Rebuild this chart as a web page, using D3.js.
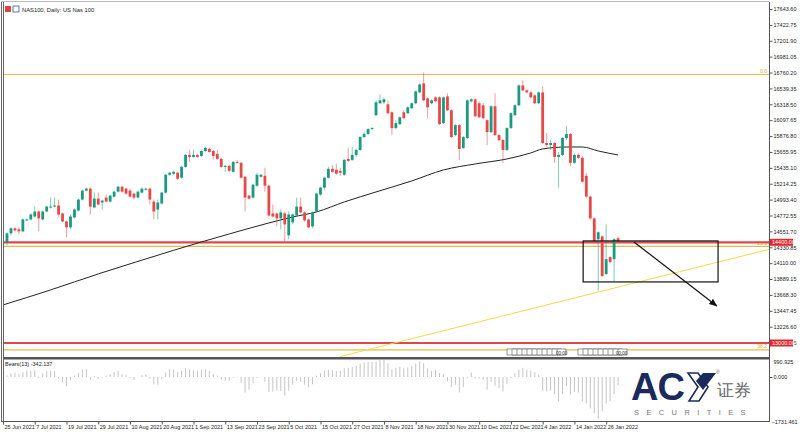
<!DOCTYPE html>
<html><head><meta charset="utf-8">
<script src="https://cdn.jsdelivr.net/npm/d3@7"></script>
<style>body{margin:0;background:#fff}svg{display:block}text{font-family:"Liberation Sans",Arial,sans-serif}</style>
</head><body><svg id="c" width="800" height="436"></svg>
<script>
// ---------- DATA (NAS100 daily, bar index 0 = 25 Jun 2021) ----------
const firstBar = 1;
const opens = [14401,14525,14594,14580,14552,14704,14718,14759,14828,14718,14828,14884,14897,14911,14801,14690,14608,14746,14842,14994,15118,15146,14884,15008,14953,15022,14966,15035,15104,15173,15146,15118,15077,15022,15091,15132,15146,14966,14856,14939,15091,15339,15353,15367,15298,15449,15615,15587,15615,15601,15670,15698,15670,15629,15560,15449,15463,15380,15518,15505,15311,15049,15022,15187,15311,15325,15187,14801,14801,14732,14801,14497,14677,14773,14897,14815,14718,14621,14828,15063,15160,15298,15422,15408,15394,15339,15560,15546,15615,15684,15863,15905,15974,16167,16333,16346,16319,16208,15988,16043,16208,16195,16264,16333,16484,16609,16402,16333,16415,16415,16057,16429,16236,15891,16029,15712,15850,16360,16388,16333,16305,16098,15932,16291,15891,15822,15684,15988,16167,16305,16581,16512,16484,16443,16333,16484,15781,15753,15781,15587,15615,15850,15905,15505,15615,15574,15325,15035,14732,14442,14483,13959,14194,14166,14456];
const highs = [14539,14608,14608,14608,14732,14732,14801,14897,14842,14842,14911,15022,15022,14994,14815,14704,14787,14870,15008,15132,15160,15160,15091,15091,14994,15063,15063,15118,15187,15187,15160,15146,15091,15118,15160,15160,15160,14994,14994,15104,15353,15380,15394,15380,15463,15629,15684,15684,15629,15684,15725,15712,15684,15684,15574,15477,15477,15532,15546,15518,15325,15063,15215,15367,15353,15436,15201,14925,14815,14856,14828,14828,14801,15022,15022,14828,14732,14828,15091,15173,15311,15449,15477,15491,15436,15560,15712,15725,15698,15877,15932,15988,16001,16374,16457,16415,16374,16222,16098,16153,16236,16291,16346,16512,16609,16760,16415,16388,16429,16429,16429,16471,16250,16043,16043,15877,16388,16402,16402,16360,16333,16112,16305,16471,15905,15836,16001,16208,16319,16595,16650,16526,16498,16457,16498,16567,15919,15822,15794,15656,15863,16015,15919,15629,15643,15601,15367,15049,14746,14552,14497,14649,14207,14456,14483];
const lows = [14359,14497,14552,14511,14539,14690,14704,14746,14552,14704,14815,14870,14884,14759,14677,14470,14580,14732,14828,14980,15104,14787,14870,14911,14856,14953,14953,15022,15091,15091,15063,15022,14994,15008,15077,15118,14925,14718,14718,14925,15077,15325,15339,15270,15284,15436,15518,15574,15574,15587,15656,15643,15546,15546,15436,15380,15380,15367,15491,15284,14828,14994,15008,15173,15298,15104,14759,14746,14621,14580,14401,14442,14649,14759,14801,14690,14594,14594,14815,15049,15132,15284,15367,15339,15325,15325,15518,15532,15587,15670,15850,15891,15960,16153,16319,16319,16181,15891,15974,16029,16112,16181,16250,16319,16471,16360,16126,16319,16346,16029,16043,16222,15850,15877,15546,15698,15836,16346,16139,16126,16112,15753,15919,15877,15808,15505,15670,15974,16153,16291,16498,16471,16402,16319,16319,15767,15725,15684,15505,15160,15601,15822,15463,15491,15560,15229,15022,14718,14401,13724,13918,13946,14111,13862,14401];
const closes = [14525,14594,14566,14552,14718,14718,14787,14828,14732,14828,14897,14897,14911,14787,14690,14608,14759,14856,14994,15118,15146,14897,15008,14925,14980,14966,15049,15104,15173,15104,15077,15035,15022,15104,15146,15146,14994,14828,14953,15091,15339,15367,15380,15284,15449,15615,15587,15615,15587,15670,15712,15656,15601,15560,15449,15463,15394,15518,15505,15298,15022,15008,15201,15339,15339,15187,14773,14759,14732,14815,14649,14787,14787,14897,14815,14704,14608,14815,15077,15160,15298,15422,15380,15353,15367,15546,15532,15615,15684,15863,15905,15974,15988,16346,16374,16388,16195,15988,16057,16139,16126,16277,16333,16498,16595,16374,16277,16374,16360,16043,16415,16236,15863,16029,15698,15863,16374,16388,16153,16139,16126,15932,16291,15891,15822,15684,15988,16195,16305,16581,16512,16484,16415,16333,16484,15781,15753,15781,15587,15615,15850,15905,15505,15615,15574,15242,15035,14732,14414,14539,13931,14166,14125,14442,14414];
const bears = [60,150,180,120,200,260,250,280,-40,150,230,260,240,-60,-220,-380,-150,60,180,300,320,-120,40,-60,-20,60,120,200,260,120,80,-40,-120,0,80,100,-80,-300,-320,-80,180,320,300,200,260,360,300,280,260,300,320,260,120,60,-100,-180,-160,-40,-20,-240,-640,-520,-260,-40,-20,-200,-620,-600,-560,-580,-760,-560,-320,-160,-200,-320,-420,-300,60,160,260,300,280,240,260,360,380,420,460,560,600,620,620,640,700,720,560,320,380,420,360,400,460,560,640,560,360,260,300,160,120,-180,-420,-320,-640,-420,-60,180,-60,-60,-120,-520,-200,-360,-460,-600,-300,-40,160,300,380,300,260,200,100,-560,-600,-560,-700,-1000,-700,-380,-720,-620,-640,-1000,-1100,-1300,-1500,-1731,-1400,-1100,-1000,-700,-342];
// moving average (read at sampled bars)
const maBars = [0,12,24,36,50,57,67,73,79,86,94,103,111,119,127,133,136,142,146,150,155];
const maVals = [13529,13738,13960,14169,14405,14516,14669,14752,14822,14961,15100,15253,15406,15489,15559,15642,15698,15725,15725,15670,15614];
const priceTicks = [17643.60,17422.75,17201.90,16981.05,16760.20,16539.35,16318.50,16097.65,15876.80,15655.95,15435.10,15214.25,14993.40,14772.55,14551.70,14330.85,14110.00,13889.15,13668.30,13447.45,13226.60,13005.75];
const dateTicks = [[0,"25 Jun 2021"],[8,"7 Jul 2021"],[16,"19 Jul 2021"],[24,"29 Jul 2021"],[32,"10 Aug 2021"],[40,"20 Aug 2021"],[48,"1 Sep 2021"],[56,"13 Sep 2021"],[64,"23 Sep 2021"],[72,"5 Oct 2021"],[80,"15 Oct 2021"],[88,"27 Oct 2021"],[96,"8 Nov 2021"],[104,"18 Nov 2021"],[112,"30 Nov 2021"],[120,"10 Dec 2021"],[128,"22 Dec 2021"],[136,"4 Jan 2022"],[144,"14 Jan 2022"],[152,"26 Jan 2022"]];
const levels = [{v:14400,label:"14400.00"},{v:13000,label:"13000.00"}];
const fibs = [{v:16733,label:"0.0"},{v:14342,label:"23.6"},{v:12904,label:"38.2"}];
const trendLine = [[85,12812],[196,14343]];
const boxRect = [[146.2,14419],[180.2,13849]];
const arrowPts = [[159,14405],[179.9,13515]];
const bearsTicks = [990.925,0,-1731.461];

// ---------- LAYOUT ----------
const W=800,H=436, L=4, R=769, T=2, B=357, IT=360, IB=421;
const svg=d3.select("#c");
const x=d3.scaleLinear().domain([0,155]).range([3.03,3.03+155*3.968]);
const y=d3.scaleLinear().domain([13226.6,17643.6]).range([326.7,9]);
const yb=d3.scaleLinear().domain([-1731.461,0]).range([419,377]);

svg.append("rect").attr("width",W).attr("height",H).attr("fill","#fff");
const defs=svg.append("defs");
defs.append("clipPath").attr("id","main").append("rect").attr("x",L).attr("y",T).attr("width",R-L).attr("height",B-T);
defs.append("clipPath").attr("id","ind").append("rect").attr("x",L).attr("y",IT).attr("width",R-L).attr("height",IB-IT);
defs.append("marker").attr("id","arr").attr("viewBox","0 0 10 10").attr("refX",9).attr("refY",5)
  .attr("markerWidth",7).attr("markerHeight",7).attr("orient","auto")
  .append("path").attr("d","M0,1 L10,5 L0,9 z").attr("fill","#111");

const gm=svg.append("g").attr("clip-path","url(#main)");
fibs.forEach(f=>{
  gm.append("line").attr("x1",L).attr("x2",R).attr("y1",y(f.v)).attr("y2",y(f.v)).attr("stroke","#e8b84a").attr("stroke-width",1.2);
  gm.append("text").attr("x",R-2).attr("y",y(f.v)-1.5).attr("text-anchor","end").attr("font-size",5).attr("fill","#d9a52a").text(f.label);
});
levels.forEach(l=>{
  gm.append("line").attr("x1",L).attr("x2",R).attr("y1",y(l.v)).attr("y2",y(l.v)).attr("stroke","#e0474c").attr("stroke-width",2.2);
});
gm.append("line").attr("x1",x(trendLine[0][0])).attr("y1",y(trendLine[0][1])).attr("x2",x(trendLine[1][0])).attr("y2",y(trendLine[1][1]))
  .attr("stroke","#f2dc4a").attr("stroke-width",1);
gm.append("path").datum(maBars.map((b,i)=>[b,maVals[i]]))
  .attr("d",d3.line().x(d=>x(d[0])).y(d=>y(d[1])).curve(d3.curveMonotoneX))
  .attr("fill","none").attr("stroke","#222").attr("stroke-width",1);
const idx=d3.range(opens.length);
const cg=gm.append("g");
idx.forEach(i=>{
  const b=i+firstBar, cx=x(b), o=opens[i], c=closes[i], up=c>=o;
  const col=up?"#1a9a7f":"#e84848";
  cg.append("line").attr("x1",cx).attr("x2",cx).attr("y1",y(highs[i])).attr("y2",y(lows[i])).attr("stroke",col).attr("stroke-opacity",0.55).attr("stroke-width",1);
  const y1=y(Math.max(o,c)), y2=y(Math.min(o,c));
  cg.append("rect").attr("x",cx-1.4).attr("width",2.8).attr("y",y1).attr("height",Math.max(1,y2-y1)).attr("fill",col);
});
gm.append("rect").attr("x",x(boxRect[0][0])).attr("y",y(boxRect[0][1])).attr("width",x(boxRect[1][0])-x(boxRect[0][0])).attr("height",y(boxRect[1][1])-y(boxRect[0][1]))
  .attr("fill","none").attr("stroke","#111").attr("stroke-width",1.2);
gm.append("line").attr("x1",x(arrowPts[0][0])).attr("y1",y(arrowPts[0][1])).attr("x2",x(arrowPts[1][0])).attr("y2",y(arrowPts[1][1]))
  .attr("stroke","#111").attr("stroke-width",1.2).attr("marker-end","url(#arr)");
const tagG=svg.append("g");
[[507,568],[578,628]].forEach(([a,b])=>{
  for(let k=a;k<b-6;k+=5){
    tagG.append("rect").attr("x",k).attr("y",349).attr("width",9).attr("height",6).attr("fill","#fff").attr("stroke","#333").attr("stroke-width",0.5);
  }
  tagG.append("text").attr("x",b-12).attr("y",354.5).attr("font-size",4.5).attr("fill","#333").text("00:00");
});

// ---------- indicator ----------
const gi=svg.append("g").attr("clip-path","url(#ind)");
idx.forEach(i=>{
  gi.append("line").attr("x1",x(i+firstBar)).attr("x2",x(i+firstBar)).attr("y1",yb(0)).attr("y2",yb(bears[i])).attr("stroke","#c4c4c4").attr("stroke-width",1);
});
svg.append("text").attr("x",5).attr("y",366).attr("font-size",5.5).attr("fill","#222").text("Bears(13) -342.137");

// ---------- frame ----------
svg.append("line").attr("x1",1.5).attr("x2",1.5).attr("y1",1).attr("y2",IB).attr("stroke","#666");
svg.append("line").attr("x1",3.5).attr("x2",3.5).attr("y1",1).attr("y2",IB).attr("stroke","#666");
svg.append("line").attr("x1",1).attr("x2",R).attr("y1",1.5).attr("y2",1.5).attr("stroke","#bbb");
svg.append("rect").attr("x",L).attr("y",B).attr("width",R-L).attr("height",2.5).attr("fill","#555");
svg.append("line").attr("x1",1).attr("x2",R+1).attr("y1",IB+0.5).attr("y2",IB+0.5).attr("stroke","#555");

const ya=svg.append("g").attr("transform",`translate(${R+0.5},0)`)
  .call(d3.axisRight(y).tickValues(priceTicks).tickSize(3).tickFormat(d3.format(".2f")));
ya.select(".domain").attr("stroke","#555").attr("d",`M0,${T}V${IB}`);
ya.selectAll("text").attr("font-size",5.5).attr("fill","#222").attr("x",4);
ya.selectAll(".tick line").attr("stroke","#555");
levels.forEach(l=>{
  const g=svg.append("g").attr("transform",`translate(${R+1},${y(l.v)})`);
  g.append("rect").attr("x",0).attr("y",-3.5).attr("width",23).attr("height",7).attr("fill","#e0282e");
  g.append("text").attr("x",2).attr("y",2).attr("font-size",5.5).attr("fill","#fff").text(l.label);
});
// bears axis: zero at its value, extremes pinned to the panel edges
const ba=svg.append("g").attr("transform",`translate(${R+0.5},0)`)
  .call(d3.axisRight(yb).tickValues([0]).tickSize(3).tickFormat(d3.format(".3f")));
ba.select(".domain").remove();
ba.selectAll("text").attr("font-size",5.5).attr("fill","#222").attr("x",4);
ba.selectAll(".tick line").attr("stroke","#555");
svg.append("text").attr("x",R+4.5).attr("y",364).attr("font-size",5.5).attr("fill","#222").text(d3.format(".3f")(bearsTicks[0]));
svg.append("text").attr("x",R+2.5).attr("y",424).attr("font-size",5.5).attr("fill","#222").text(d3.format(".3f")(bearsTicks[2]));

const xa=svg.append("g").attr("transform",`translate(0,${IB+0.5})`)
  .call(d3.axisBottom(x).tickValues(dateTicks.map(d=>d[0])).tickSize(3).tickFormat((d,i)=>dateTicks[i][1]));
xa.select(".domain").remove();
xa.selectAll(".tick line").attr("stroke","#555");
xa.selectAll("text").attr("font-size",5.5).attr("fill","#222").attr("text-anchor","start").attr("x",1).attr("y",4).attr("dy","0.71em");

svg.append("rect").attr("x",5).attr("y",6).attr("width",6).attr("height",6).attr("fill","#d44");
svg.append("rect").attr("x",13).attr("y",6).attr("width",6).attr("height",6).attr("fill","#fff").attr("stroke","#35a").attr("stroke-width",0.8);
svg.append("text").attr("x",22).attr("y",11.5).attr("font-size",5.8).attr("fill","#222").text("NAS100, Daily:  US Nas 100");

// logo
const lg=svg.append("g");
lg.append("text").attr("x",631).attr("y",400).attr("font-size",38).attr("font-weight",900).attr("fill","#1b2a5c").attr("letter-spacing",-1).text("AC");
lg.append("path").attr("d","M688,373 L698,373 L708,387 L699,401 L689,401 L698,387 Z").attr("fill","none").attr("stroke","#1b2a5c").attr("stroke-width",1.6);
lg.append("path").attr("d","M703,373 L716,373 L703,390 L696,381 Z").attr("fill","#1b2a5c");
lg.append("text").attr("x",717).attr("y",396).attr("font-size",17).attr("fill","#666").attr("font-family","Noto Sans CJK SC").text("证券");
lg.append("text").attr("x",716).attr("y",374).attr("font-size",5).attr("fill","#666").text("®");
lg.append("text").attr("x",634).attr("y",415).attr("font-size",7.5).attr("fill","#777").attr("letter-spacing",7.4).text("SECURITIES");
</script></body></html>
